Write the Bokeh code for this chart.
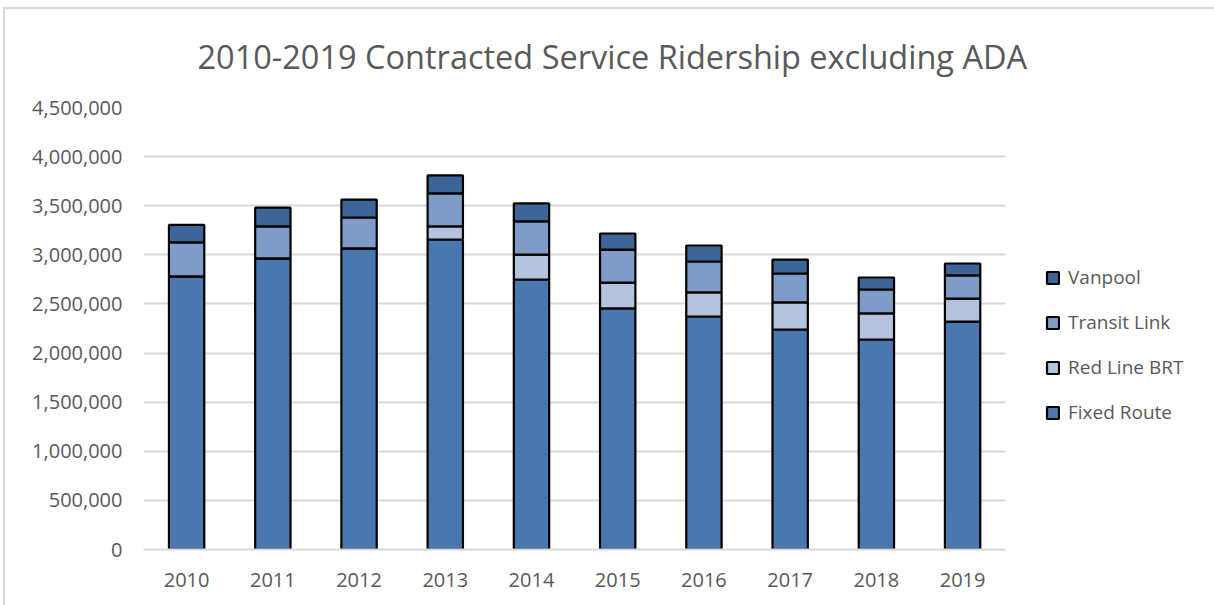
from bokeh.plotting import figure
from bokeh.models import NumeralTickFormatter, Legend, LegendItem, FixedTicker, Range1d, InlineStyleSheet
from bokeh.embed import file_html
from bokeh.resources import INLINE

years = ["2010", "2011", "2012", "2013", "2014", "2015", "2016", "2017", "2018", "2019"]
fixed_route = [2780000, 2963000, 3065000, 3156000, 2749000, 2454000, 2372000, 2240000, 2138000, 2321000]
red_line_brt = [0, 0, 0, 133000, 254000, 264000, 245000, 275000, 265000, 234000]
transit_link = [346000, 327000, 315000, 336000, 337000, 336000, 315000, 295000, 244000, 235000]
vanpool = [178000, 190000, 183000, 183000, 183000, 163000, 163000, 142000, 122000, 122000]
series = ["Fixed Route", "Red Line BRT", "Transit Link", "Vanpool"]
colors = ["#4a77ae", "#b5c3de", "#7f9cc8", "#3d6596"]
y_ticks = list(range(0, 4500001, 500000))

xpos = list(range(len(years)))
data = {"x": xpos, "Fixed Route": fixed_route, "Red Line BRT": red_line_brt,
        "Transit Link": transit_link, "Vanpool": vanpool}

FONT = "Open Sans"
GREY = "#595959"

# category slots occupy frame from x=143 to 1005 (86.2 px each); frame extends to right edge for legend
p = figure(x_range=Range1d(-0.5, 11.91), y_range=Range1d(0, 4500000),
           width=1214, height=605, output_backend="svg", toolbar_location=None,
           min_border_left=143, min_border_right=1, min_border_top=107, min_border_bottom=56)

renderers = p.vbar_stack(series, x="x", width=0.41, source=data, color=colors,
                         line_color="black", line_width=2.2)

p.title.text = "2010-2019 Contracted Service Ridership excluding ADA"
p.title.text_font = FONT
p.title.text_font_size = "32.5px"
p.title.text_font_style = "normal"
p.title.text_color = GREY
p.title.align = "left"
p.title.offset = 54
p.title.standoff = 58

p.yaxis.ticker = FixedTicker(ticks=y_ticks)
p.yaxis.formatter = NumeralTickFormatter(format="0,0")
p.yaxis.axis_line_color = None
p.yaxis.major_tick_line_color = None
p.yaxis.minor_tick_line_color = None
p.yaxis.major_label_text_font = FONT
p.yaxis.major_label_text_font_size = "20px"
p.yaxis.major_label_text_color = GREY
p.yaxis.major_label_standoff = 15

p.xaxis.ticker = FixedTicker(ticks=xpos)
p.xaxis.major_label_overrides = {i: y for i, y in zip(xpos, years)}
p.xaxis.bounds = (-0.5, len(years) - 0.5)
p.xaxis.axis_line_color = "#d9d9d9"
p.xaxis.axis_line_width = 2
p.xaxis.major_tick_line_color = None
p.xaxis.minor_tick_line_color = None
p.xaxis.major_label_text_font = FONT
p.xaxis.major_label_text_font_size = "20px"
p.xaxis.major_label_text_color = GREY
p.xaxis.major_label_standoff = 17

grid = p.ygrid[0]
p.xgrid.grid_line_color = None
grid.grid_line_color = "#d9d9d9"
grid.grid_line_width = 2
if "cross_bounds" in grid.properties():
    grid.cross_bounds = (-0.5, len(years) - 0.5)
p.outline_line_color = None

items = [LegendItem(label=s, renderers=[r]) for s, r in zip(series, renderers)][::-1]
legend = Legend(items=items, location=(902, 124), border_line_color=None, background_fill_alpha=0,
                label_text_font=FONT, label_text_font_size="19px", label_text_color=GREY,
                glyph_width=15, glyph_height=15, label_height=20, spacing=19, padding=5,
                label_standoff=8, margin=0)
p.add_layout(legend, "center")

# light grey chart-area border (top and left edges visible in the reference)
p.stylesheets = [InlineStyleSheet(css=(
    ":host::after { content: ''; position: absolute; left: 3px; top: 7px; right: 0; bottom: 0;"
    " border-left: 2px solid #d9d9d9; border-top: 2px solid #d9d9d9; pointer-events: none; }"))]

open("out.html", "w").write(file_html(p, INLINE))
